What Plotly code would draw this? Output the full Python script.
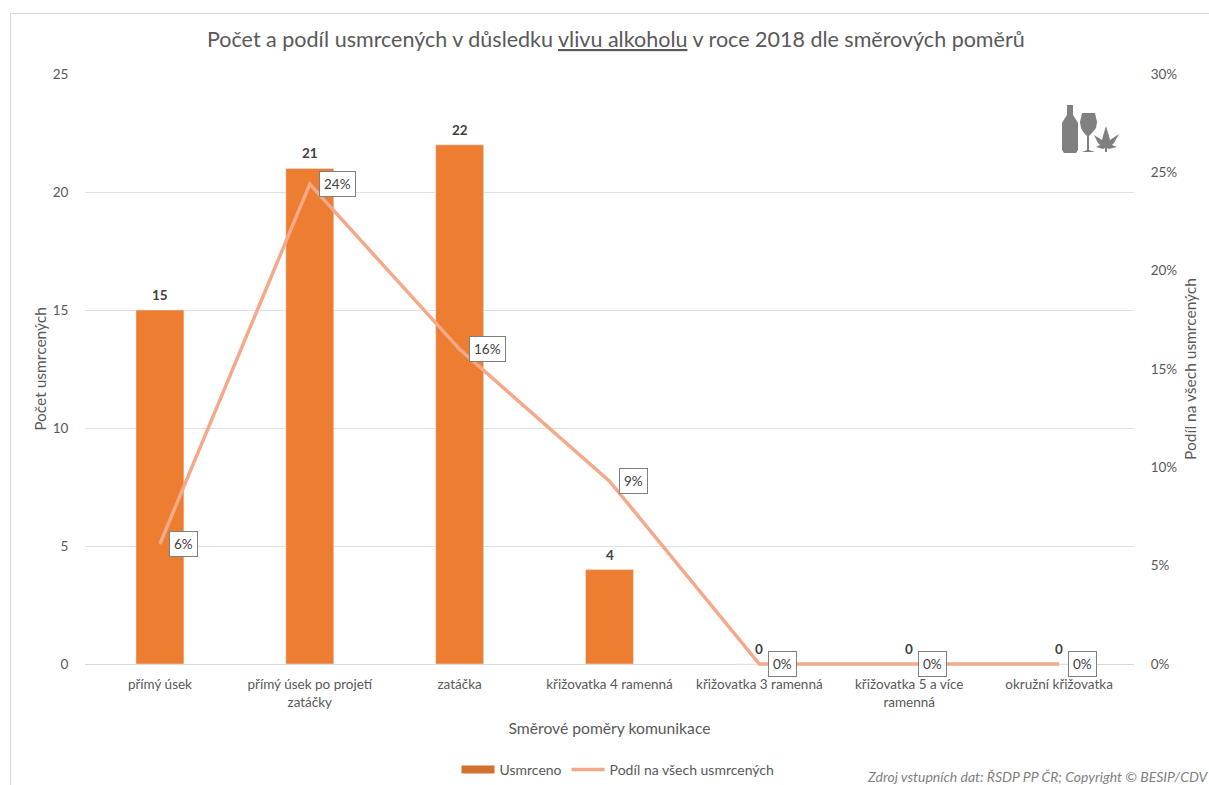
import plotly.graph_objects as go

categories = ["přímý úsek", "přímý úsek po projetí<br>zatáčky", "zatáčka", "křižovatka 4 ramenná",
              "křižovatka 3 ramenná", "křižovatka 5 a více<br>ramenná", "okružní křižovatka"]
usmrceno = [15, 21, 22, 4, 0, 0, 0]
podil = [6.1, 24.4, 16.0, 9.3, 0, 0, 0]
podil_labels = ["6%", "24%", "16%", "9%", "0%", "0%", "0%"]
y_ticks = [0, 5, 10, 15, 20, 25]
y2_ticks = [0, 5, 10, 15, 20, 25, 30]
y2_tick_labels = ["0%", "5%", "10%", "15%", "20%", "25%", "30%"]

W, H = 1209, 785
L, R, T, B = 85, 1134, 74, 664
FONT = "Lato"
GREY = "#595959"


def px(x):
    return (x - L) / (R - L)


def py(y):
    return (B - y) / (B - T)


fig = go.Figure()
fig.add_trace(go.Bar(x=categories, y=usmrceno, name="Usmrceno", marker_color="#ED7D31", width=0.32,
                     cliponaxis=False, showlegend=False))
fig.add_trace(go.Scatter(x=[None], y=[None], name="Usmrceno", mode="lines", cliponaxis=False,
                         line=dict(color="#D2702E", width=8)))
fig.add_trace(go.Scatter(x=categories, y=podil, name="Podíl na všech usmrcených", yaxis="y2", mode="lines",
                         cliponaxis=False, line=dict(color="#F4A98A", width=3.5)))

annotations = []
for c, v in zip(categories, usmrceno):
    annotations.append(dict(x=c, y=v, xref="x", yref="y", text=f"<b>{v}</b>", showarrow=False, yanchor="bottom",
                            yshift=5, font=dict(family=FONT, size=13.5, color="#404040")))
for c, v, t in zip(categories, podil, podil_labels):
    annotations.append(dict(x=c, y=v, xref="x", yref="y2", text=t, showarrow=False, xanchor="left",
                            xshift=9, font=dict(family=FONT, size=13.5, color="#404040"), bgcolor="white",
                            bordercolor="#7F7F7F", borderwidth=1, borderpad=4))
annotations.append(dict(x=px(1209), y=py(776), xref="paper", yref="paper", xanchor="right", yanchor="middle",
                        xshift=2, text="<i>Zdroj vstupních dat: ŘSDP PP ČR; Copyright © BESIP/CDV</i>", showarrow=False,
                        font=dict(family=FONT, size=14, color="#7F7F7F")))
annotations.append(dict(x=px(616), y=py(39), xref="paper", yref="paper", xanchor="center", yanchor="middle",
                        text="Počet a podíl usmrcených v důsledku <u>vlivu alkoholu</u> v roce 2018 dle směrových poměrů",
                        showarrow=False, font=dict(family=FONT, size=21.5, color=GREY)))


def path(points):
    return "M " + " L ".join(f"{px(a):.5f},{py(b):.5f}" for a, b in points) + " Z"


ICON = "#808080"
bottle = [(1067, 105), (1073, 105), (1073, 115), (1075, 118), (1078, 123), (1078, 150), (1076, 153), (1064, 153),
          (1062, 150), (1062, 123), (1065, 118), (1067, 115)]
glass = [(1082, 113), (1095, 113), (1097, 122), (1096, 128), (1092, 133), (1089, 136), (1089, 150), (1095, 152),
         (1082, 152), (1087, 150), (1087, 136), (1084, 133), (1081, 128), (1080, 122)]
leaf = [(1106, 126), (1109, 136), (1110, 140), (1119, 134), (1114, 143), (1112, 145), (1117, 147), (1109, 149),
        (1107, 148), (1107, 152), (1105, 152), (1105, 148), (1103, 149), (1096, 147), (1100, 145), (1098, 143),
        (1094, 135), (1102, 140), (1103, 136)]
shapes = [dict(type="path", path=path(p), xref="paper", yref="paper", fillcolor=ICON, line=dict(width=0))
          for p in (bottle, glass, leaf)]
shapes.append(dict(type="path", xref="paper", yref="paper", line=dict(color="#D9D9D9", width=1),
                   path=f"M {px(10.5)},{py(785)} L {px(10.5)},{py(13.5)} L {px(1209)},{py(13.5)}"))

fig.update_layout(
    width=W, height=H, autosize=False, paper_bgcolor="white", plot_bgcolor="white",
    margin=dict(l=L, r=W - R, t=T, b=H - B, autoexpand=False),
    font=dict(family=FONT, size=13.5, color=GREY),
    showlegend=True, annotations=annotations, shapes=shapes,
    legend=dict(orientation="h", xref="container", yref="container", x=618 / W, xanchor="center",
                y=1 - 770 / H, yanchor="middle", itemwidth=33,
                font=dict(family=FONT, size=14, color=GREY)),
    xaxis=dict(showline=True, linecolor="#D9D9D9", layer="below traces", ticks="outside", ticklen=8, tickcolor="white",
               tickangle=0, automargin=False,
               title=dict(text="Směrové poměry komunikace", standoff=14, font=dict(family=FONT, size=15.7, color=GREY))),
    yaxis=dict(range=[0, 25], tickvals=y_ticks, gridcolor="#E0E0E0", zeroline=False, automargin=False, ticks="outside",
               ticklen=13, tickcolor="white",
               title=dict(text="Počet usmrcených", standoff=2, font=dict(family=FONT, size=15.5, color=GREY))),
    yaxis2=dict(range=[0, 30], tickmode="array", tickvals=y2_ticks, ticktext=y2_tick_labels, overlaying="y", side="right",
                showgrid=False, zeroline=False, automargin=False, ticks="outside", ticklen=13, tickcolor="white",
                title=dict(text="Podíl na všech usmrcených", standoff=8, font=dict(family=FONT, size=15.5, color=GREY))),
)
unclip = """
var gd = document.querySelector('.js-plotly-plot');
function unclip() {
  gd.querySelectorAll('.overplot [clip-path], .overplot [style*="clip-path"]').forEach(function (el) {
    el.removeAttribute('clip-path');
    el.style.clipPath = 'none';
  });
}
unclip();
gd.on('plotly_afterplot', unclip);
setTimeout(unclip, 50);
document.body.style.margin = '0';
"""
fig.write_html("out.html", config={"displayModeBar": False}, post_script=unclip)
